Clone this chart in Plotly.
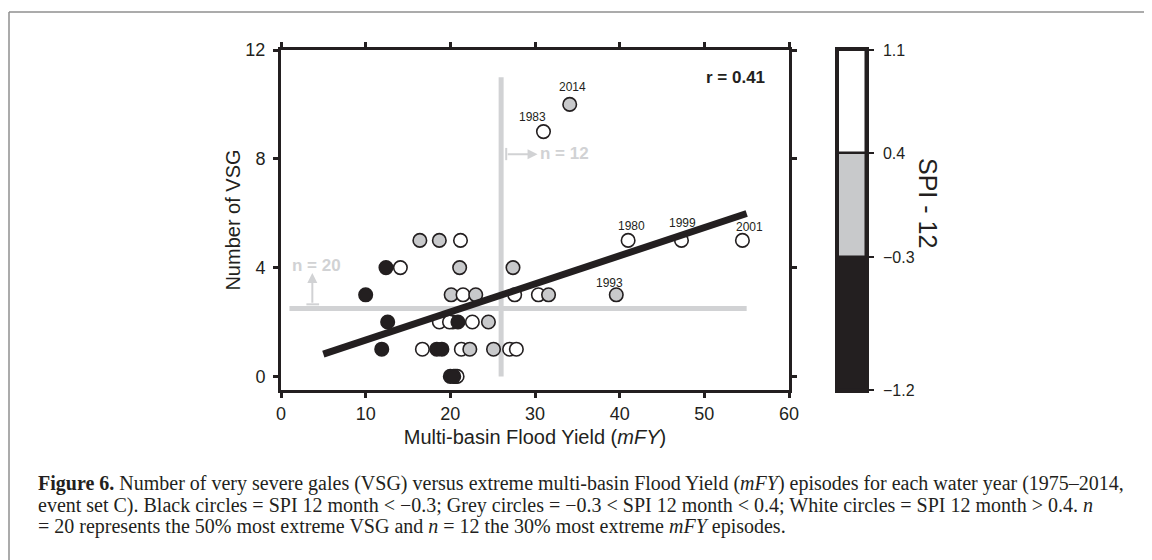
import plotly.graph_objects as go

# ---------------- data ----------------
mfy = [20.6, 20.8, 20.3,
       16.4, 18.7, 21.2, 41.0, 47.3, 54.5,
       12.4, 14.1, 21.1, 27.4,
       10.0, 20.1, 21.5, 23.0, 27.6, 30.4, 31.6, 39.6,
       12.6, 18.7, 19.9, 20.9, 22.6, 24.5,
       11.9, 16.7, 18.4, 19.0, 21.3, 22.3, 25.1, 27.0, 27.8,
       20.0, 20.4,
       31.0, 34.1]
vsg = [0, 0, 2,
       5, 5, 5, 5, 5, 5,
       4, 4, 4, 4,
       3, 3, 3, 3, 3, 3, 3, 3,
       2, 2, 2, 2, 2, 2,
       1, 1, 1, 1, 1, 1, 1, 1, 1,
       0, 0,
       9, 10]
spi_class = ["W", "W", "W",
             "G", "G", "W", "W", "W", "W",
             "B", "W", "G", "G",
             "B", "G", "W", "G", "W", "W", "G", "G",
             "B", "W", "W", "B", "W", "G",
             "B", "W", "B", "B", "W", "G", "G", "W", "W",
             "B", "B",
             "W", "G"]
years = ["", "", "",
         "", "", "", "1980", "1999", "2001",
         "", "", "", "",
         "", "", "", "", "", "", "", "1993",
         "", "", "", "", "", "",
         "", "", "", "", "", "", "", "", "",
         "", "",
         "1983", "2014"]

trend_slope = 0.1034
trend_intercept = 0.30
trend_x = [5.0, 55.0]

vsg_threshold = 2.5           # n = 20
vsg_thr_x = [1.0, 55.0]
mfy_threshold = 26.0          # n = 12
mfy_thr_y = [0.0, 11.0]

r_value = 0.41

spi_bounds = [-1.2, -0.3, 0.4, 1.1]
spi_ticktext = ["\u22121.2", "\u22120.3", "0.4", "1.1"]

x_ticks = [0, 10, 20, 30, 40, 50, 60]
y_ticks = [0, 4, 8, 12]

# ---------------- styles ----------------
INK = "#231f20"
GREY = "#c8c9cb"
LIGHT = "#d1d2d4"
class_color = {"B": INK, "G": GREY, "W": "#ffffff"}
FONT = "Liberation Sans, Arial, sans-serif"
SERIF = "Liberation Serif, Times New Roman, serif"

OFF = 8                      # page body margin
PAGE_W, PAGE_H = 1152, 560
W, H = PAGE_W - OFF, PAGE_H - OFF
# plot box in page pixels
PX_L, PX_R, PX_T, PX_B = 281, 866, 50, 390
ML, MT = PX_L - OFF, PX_T - OFF
MR, MB = W - (PX_R - OFF), H - (PX_B - OFF)
PW, PH = PX_R - PX_L, PX_B - PX_T


def px_x(p):
    return (p - PX_L) / PW


def px_y(p):
    return (PX_B - p) / PH


fig = go.Figure()

# threshold lines
fig.add_trace(go.Scatter(x=vsg_thr_x, y=[vsg_threshold] * 2, mode="lines",
                         line=dict(color=LIGHT, width=5), hoverinfo="skip", showlegend=False))
fig.add_trace(go.Scatter(x=[mfy_threshold] * 2, y=mfy_thr_y, mode="lines",
                         line=dict(color=LIGHT, width=5), hoverinfo="skip", showlegend=False))

# points
fig.add_trace(go.Scatter(
    x=mfy, y=vsg, mode="markers",
    marker=dict(size=13.5, color=[class_color[c] for c in spi_class],
                line=dict(color=INK, width=1.6)),
    showlegend=False))

# trend line
trend_y = [trend_intercept + trend_slope * v for v in trend_x]
fig.add_trace(go.Scatter(x=trend_x, y=trend_y, mode="lines",
                         line=dict(color=INK, width=7), showlegend=False))

# SPI colour scale as stacked bar on second axes
fig.add_trace(go.Bar(
    x=[0, 0, 0],
    base=spi_bounds[:3],
    y=[spi_bounds[i + 1] - spi_bounds[i] for i in range(3)],
    marker=dict(color=[INK, GREY, "#ffffff"], line=dict(color=INK, width=2.5)),
    width=1, xaxis="x2", yaxis="y2", showlegend=False, hoverinfo="skip"))

# year labels
label_offsets = {"1983": (-11, 15), "2014": (3, 17), "1980": (3, 14),
                 "1999": (1, 17), "2001": (7, 13), "1993": (-7, 12)}
annotations = []
for xv, yv, yr in zip(mfy, vsg, years):
    if yr:
        dx, dy = label_offsets[yr]
        annotations.append(dict(x=xv, y=yv, text=yr, showarrow=False,
                                xshift=dx, yshift=dy,
                                font=dict(family=FONT, size=12, color=INK)))

# r value
annotations.append(dict(x=57.4, y=11.0, text=f"<b>r = {r_value:.2f}</b>", showarrow=False,
                        xanchor="right", font=dict(family=FONT, size=17, color=INK)))

# n = 20 arrow
annotations.append(dict(x=3.7, y=3.8, ax=3.7, ay=vsg_threshold + 0.15, axref="x", ayref="y",
                        xref="x", yref="y", showarrow=True, arrowhead=2, arrowsize=1,
                        arrowwidth=2, arrowcolor=LIGHT, text=""))
annotations.append(dict(x=4.2, y=4.07, text="<b>n = 20</b>", showarrow=False,
                        font=dict(family=FONT, size=17, color=LIGHT)))
# n = 12 arrow
annotations.append(dict(x=30.3, y=8.17, ax=mfy_threshold + 0.6, ay=8.17, axref="x", ayref="y",
                        xref="x", yref="y", showarrow=True, arrowhead=2, arrowsize=1,
                        arrowwidth=2, arrowcolor=LIGHT, text=""))
annotations.append(dict(x=30.3, y=8.19, text="<b>n = 12</b>", showarrow=False, xanchor="left",
                        font=dict(family=FONT, size=17, color=LIGHT)))

shapes = [
    # caps at arrow tails
    dict(type="line", xref="x", yref="y", x0=3.0, x1=4.5, y0=vsg_threshold + 0.15,
         y1=vsg_threshold + 0.15, line=dict(color=LIGHT, width=2)),
    dict(type="line", xref="x", yref="y", x0=mfy_threshold + 0.6, x1=mfy_threshold + 0.6,
         y0=7.95, y1=8.4, line=dict(color=LIGHT, width=2)),
    # page frame
    dict(type="line", xref="paper", yref="paper", x0=px_x(9), x1=px_x(1152),
         y0=px_y(12), y1=px_y(12), line=dict(color="#8f8f8f", width=1.5)),
    dict(type="line", xref="paper", yref="paper", x0=px_x(9), x1=px_x(9),
         y0=px_y(12), y1=px_y(560), line=dict(color="#8f8f8f", width=1.5)),
]

# SPI title
annotations.append(dict(xref="paper", yref="paper", x=px_x(928), y=px_y(203),
                        xanchor="center", yanchor="middle",
                        text="SPI - 12", textangle=90, showarrow=False,
                        font=dict(family=FONT, size=25, color=INK)))

# caption
caption = [
    "<b>Figure 6.</b> Number of very severe gales (VSG) versus extreme multi-basin Flood Yield (<i>mFY</i>) episodes for each water year (1975\u20132014,",
    "event set C). Black circles = SPI 12 month &lt; \u22120.3; Grey circles = \u22120.3 &lt; SPI 12 month &lt; 0.4; White circles = SPI 12 month &gt; 0.4. <i>n</i>",
    "= 20 represents the 50% most extreme VSG and <i>n</i> = 12 the 30% most extreme <i>mFY</i> episodes.",
]
for i, line in enumerate(caption):
    annotations.append(dict(xref="paper", yref="paper", x=px_x(36), y=px_y(484 + 21 * i),
                            xanchor="left", yanchor="middle", text=line, showarrow=False,
                            font=dict(family=SERIF, size=20, color=INK)))

axis_common = dict(showline=True, linewidth=3, linecolor=INK, mirror="ticks",
                   ticks="outside", ticklen=5, tickwidth=2.5, tickcolor=INK,
                   showgrid=False, zeroline=False,
                   tickfont=dict(family=FONT, size=18, color=INK))

fig.update_layout(
    width=W, height=H,
    margin=dict(l=ML, r=MR, t=MT, b=MB, pad=0),
    paper_bgcolor="white", plot_bgcolor="white",
    bargap=0,
    xaxis=dict(domain=[0, (789 - PX_L) / PW], range=[0, 60], tickvals=x_ticks,
               title=dict(text="Multi-basin Flood Yield (<i>mFY</i>)", standoff=8,
                          font=dict(family=FONT, size=20, color=INK)),
               **axis_common),
    yaxis=dict(domain=[0, 1], range=[-0.5, 12], tickvals=y_ticks,
               ticklabelstandoff=4,
               title=dict(text="Number of VSG", standoff=0,
                          font=dict(family=FONT, size=20, color=INK)),
               **axis_common),
    xaxis2=dict(domain=[(838 - PX_L) / PW, 1], range=[-0.5, 0.5], anchor="y2",
                showline=True, linewidth=2.5, linecolor=INK, mirror=True,
                showticklabels=False, ticks="", showgrid=False, zeroline=False),
    yaxis2=dict(domain=[0, 1], range=[spi_bounds[0], spi_bounds[-1]], anchor="x2",
                side="right", showline=True, linewidth=2.5, linecolor=INK, mirror=True,
                tickvals=spi_bounds, ticktext=spi_ticktext, ticks="outside",
                ticklen=5, tickwidth=2, tickcolor=INK, showgrid=False, zeroline=False,
                ticklabelstandoff=6,
                tickfont=dict(family=FONT, size=16, color=INK)),
    annotations=annotations,
    shapes=shapes,
)

fig.write_html("out.html")
